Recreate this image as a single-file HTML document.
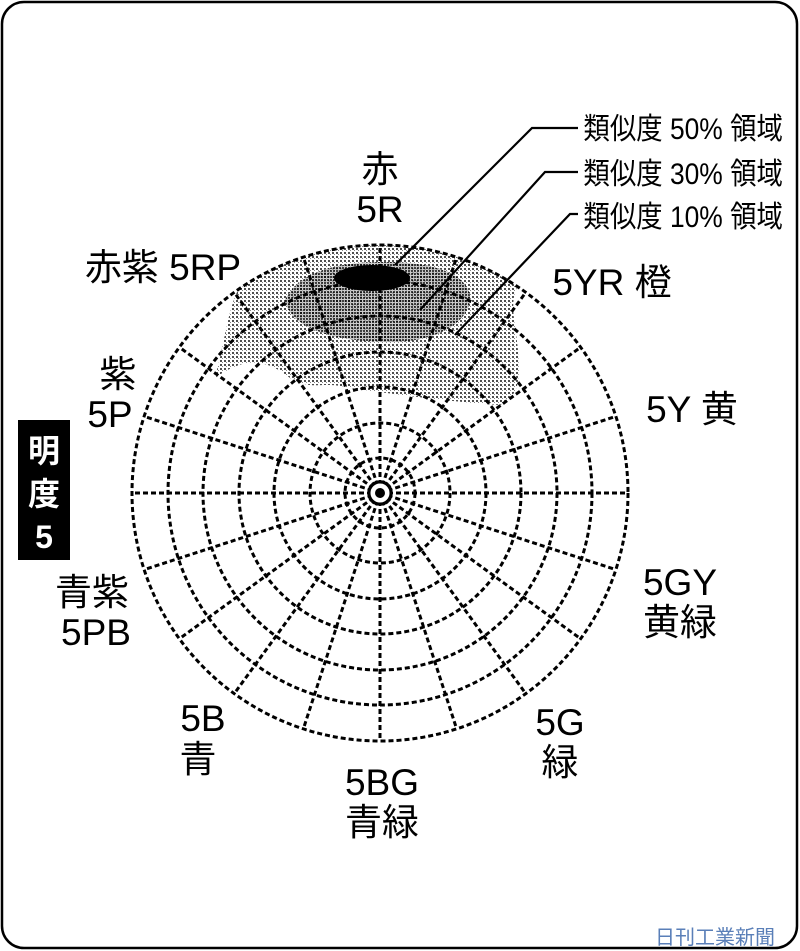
<!DOCTYPE html>
<html><head><meta charset="utf-8"><style>
html,body{margin:0;padding:0;background:#fff}
svg{display:block}
text{font-family:"Liberation Sans","Noto Sans CJK JP",sans-serif;fill:#000}
</style></head><body>
<svg width="800" height="951" viewBox="0 0 800 951" xmlns="http://www.w3.org/2000/svg">
<defs>
<pattern id="p1" width="4" height="4" patternUnits="userSpaceOnUse"><rect width="4" height="4" fill="#fff"/><rect x="0" y="0" width="2" height="2" fill="#222"/><rect x="2" y="2" width="1" height="1" fill="#666"/></pattern>
<pattern id="p2" width="3" height="3" patternUnits="userSpaceOnUse"><rect width="3" height="3" fill="#bbb"/><rect x="0" y="0" width="2" height="2" fill="#000"/></pattern>
<clipPath id="cc"><circle cx="380" cy="493" r="248"/></clipPath>
</defs>
<rect x="2" y="2" width="795" height="946" rx="22" fill="#fff" stroke="#000" stroke-width="2.5"/>
<g clip-path="url(#cc)">
<path d="M215,378 C225,340 228,310 238,290 L240,230 L520,230 L520,282 C508,300 515,320 518,350 C520,380 520,395 500,405 C450,402 400,395 350,388 C320,380 315,392 290,378 C262,355 240,360 215,378 Z" fill="url(#p1)" opacity="0.8"/>
<path d="M285,300 C300,270 340,262 385,262 C430,262 465,272 470,295 C472,320 440,342 390,342 C340,342 290,330 285,300 Z" fill="url(#p2)" opacity="0.75"/>
</g>
<ellipse cx="372" cy="278" rx="38" ry="13" fill="#000"/>
<g fill="none" stroke="#000" stroke-width="3" stroke-dasharray="5 3">
<circle cx="380" cy="493" r="248"/>
<circle cx="380" cy="493" r="212"/>
<circle cx="380" cy="493" r="177"/>
<circle cx="380" cy="493" r="141"/>
<circle cx="380" cy="493" r="106"/>
<circle cx="380" cy="493" r="70"/>
<circle cx="380" cy="493" r="35"/>
<g id="sp">
<line x1="380" y1="493" x2="380" y2="245"/>
<line x1="380" y1="493" x2="380" y2="245" transform="rotate(18 380 493)"/>
<line x1="380" y1="493" x2="380" y2="245" transform="rotate(36 380 493)"/>
<line x1="380" y1="493" x2="380" y2="245" transform="rotate(54 380 493)"/>
<line x1="380" y1="493" x2="380" y2="245" transform="rotate(72 380 493)"/>
<line x1="380" y1="493" x2="380" y2="245" transform="rotate(90 380 493)"/>
<line x1="380" y1="493" x2="380" y2="245" transform="rotate(108 380 493)"/>
<line x1="380" y1="493" x2="380" y2="245" transform="rotate(126 380 493)"/>
<line x1="380" y1="493" x2="380" y2="245" transform="rotate(144 380 493)"/>
<line x1="380" y1="493" x2="380" y2="245" transform="rotate(162 380 493)"/>
</g>
<use href="#sp" transform="rotate(180 380 493)"/>
</g>
<circle cx="380" cy="493" r="11" fill="#fff" stroke="#000" stroke-width="3"/>
<circle cx="380" cy="493" r="5" fill="#000"/>
<g stroke="#000" stroke-width="2.2" fill="none">
<polyline points="578,128 532,128 395,265"/>
<polyline points="578,172 545,172 420,310"/>
<polyline points="578,214 570,214 455,335"/>
</g>
<g font-size="30" transform="scale(0.88 1)">
<text x="663" y="139">類似度 50% 領域</text>
<text x="663" y="184">類似度 30% 領域</text>
<text x="663" y="227">類似度 10% 領域</text>
</g>
<g font-size="37" text-anchor="middle">
<text x="380" y="182">赤</text>
<text x="380" y="222">5R</text>
<text x="163" y="280">赤紫 5RP</text>
<text x="612" y="295">5YR 橙</text>
<text x="118" y="387">紫</text>
<text x="110" y="427">5P</text>
<text x="692" y="422">5Y 黄</text>
<text x="92" y="605">青紫</text>
<text x="96" y="645">5PB</text>
<text x="680" y="595">5GY</text>
<text x="680" y="635">黄緑</text>
<text x="203" y="731">5B</text>
<text x="198" y="772">青</text>
<text x="560" y="735">5G</text>
<text x="560" y="775">緑</text>
<text x="382" y="795">5BG</text>
<text x="382" y="835">青緑</text>
</g>
<rect x="18" y="420" width="52" height="140" fill="#000"/>
<g font-size="32" font-weight="bold" text-anchor="middle">
<text x="44" y="462" style="fill:#fff">明</text>
<text x="44" y="505" style="fill:#fff">度</text>
<text x="44" y="548" style="fill:#fff">5</text>
</g>
<text x="655" y="944" font-size="20" style="fill:#5a7fb8">日刊工業新聞</text>
</svg>
</body></html>
